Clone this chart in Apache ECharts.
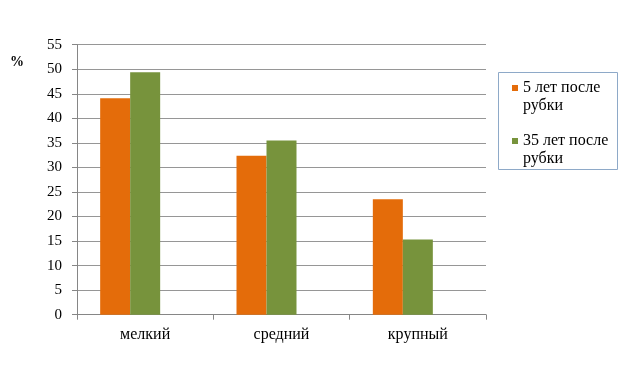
<!DOCTYPE html>
<html><head><meta charset="utf-8">
<script src="https://cdn.jsdelivr.net/npm/echarts@6/dist/echarts.min.js"></script>
<style>html,body{margin:0;padding:0;background:#fff}#c{width:642px;height:368px}</style>
</head><body><div id="c"></div>
<script>
var categories = ['мелкий', 'средний', 'крупный'];
var seriesNames = ['5 лет после рубки', '35 лет после рубки'];
var values5 = [44.1, 32.4, 23.5];
var values35 = [49.4, 35.5, 15.3];
var yTicks = {min: 0, max: 55, interval: 5};

var font = '"Liberation Serif", "Times New Roman", serif';
var chart = echarts.init(document.getElementById('c'));
chart.setOption({
  animation: false,
  backgroundColor: '#fff',
  grid: {left: 77, right: 156, top: 44.7, bottom: 53.3},
  legend: {
    data: seriesNames,
    orient: 'vertical',
    left: 507, top: 56,
    itemWidth: 6, itemHeight: 6,
    itemGap: -1,
    icon: 'rect',
    formatter: function (n) { return '\n' + n.replace(' рубки', '\nрубки'); },
    textStyle: {fontFamily: font, fontSize: 16, color: '#000', lineHeight: 18},
    selectedMode: false
  },
  graphic: [
    {type: 'rect', shape: {x: 498.5, y: 72.5, width: 119, height: 97}, style: {fill: 'none', stroke: '#8EA9C8', lineWidth: 1}},
    {type: 'text', left: 10, top: 55, style: {text: '%', font: 'bold 14px ' + font, fill: '#000'}}
  ],
  xAxis: {
    type: 'category', data: categories,
    axisLine: {lineStyle: {color: '#868686'}},
    axisTick: {show: true, length: 5, lineStyle: {color: '#868686'}},
    axisLabel: {fontFamily: font, fontSize: 16, color: '#000', margin: 12}
  },
  yAxis: {
    type: 'value', min: yTicks.min, max: yTicks.max, interval: yTicks.interval,
    axisLine: {show: true, lineStyle: {color: '#868686'}},
    axisTick: {show: true, length: 5, lineStyle: {color: '#868686'}},
    axisLabel: {fontFamily: font, fontSize: 15, color: '#000', margin: 15},
    splitLine: {lineStyle: {color: '#969696'}}
  },
  series: [
    {name: seriesNames[0], type: 'bar', data: values5, barWidth: 30, barGap: '0%', itemStyle: {color: '#E46C0A'}},
    {name: seriesNames[1], type: 'bar', data: values35, barWidth: 30, itemStyle: {color: '#77933C'}},
    {name: '', type: 'bar', data: [null, null, null], barWidth: 30}
  ]
});
</script></body></html>
